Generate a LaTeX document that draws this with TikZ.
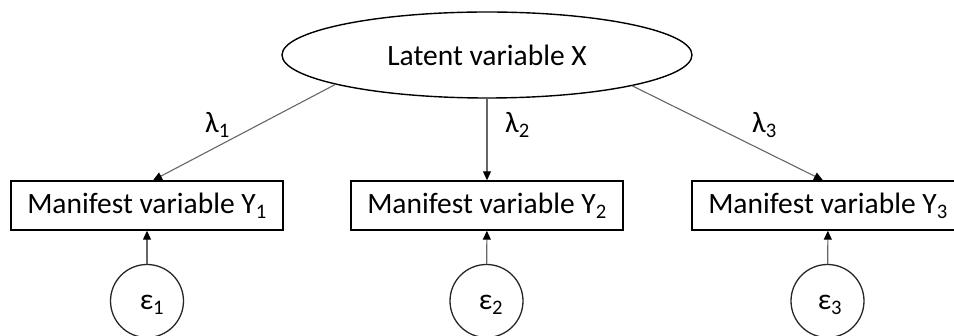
\documentclass[tikz,border=0pt]{standalone}
\usepackage{fontspec}
\setmainfont{Carlito}
\usetikzlibrary{shapes.geometric,arrows.meta}

\tikzset{
  every node/.style={font=\fontsize{29.5}{35}\selectfont},
  latent/.style={draw=black, line width=1.4pt, ellipse, minimum width=410pt,
    minimum height=86pt, inner sep=0pt},
  manifest/.style={draw=black, line width=1.4pt, rectangle, minimum width=272pt,
    minimum height=49pt, inner sep=0pt},
  errcirc/.style={draw=black!85, line width=1.3pt, circle, minimum size=73pt,
    inner sep=0pt},
  load/.style={draw=black!60, line width=1.1pt,
    -{Triangle[length=9pt,width=8pt,color=black]}},
  coef/.style={anchor=base west, inner sep=0pt},
  errlab/.style={anchor=base, inner sep=0pt},
}

\begin{document}
\begin{tikzpicture}[x=1pt, y=-1pt]
  \path[use as bounding box, clip] (0,0) rectangle (954,336);

  % latent factor
  \node[latent] (X) at (487,55) {Latent variable X};

  % indicators
  \node[manifest] (Y1) at (147,205.5) {Manifest variable Y\textsubscript{1}};
  \node[manifest] (Y2) at (487,205.5) {Manifest variable Y\textsubscript{2}};
  \node[manifest] (Y3) at (828,205.5) {Manifest variable Y\textsubscript{3}};

  % measurement errors
  \node[errcirc] (e1) at (147,301) {};
  \node[errcirc] (e2) at (486.5,301) {};
  \node[errcirc] (e3) at (827.5,301) {};
  \node[errlab] at (152,310) {ε\textsubscript{1}};
  \node[errlab] at (491,310) {ε\textsubscript{2}};
  \node[errlab] at (830,310) {ε\textsubscript{3}};

  % factor loadings
  \draw[load] (X.191.8) -- ([xshift=6pt]Y1.north);
  \draw[load] (X.south) -- (Y2.north);
  \draw[load] (X.348.1) -- ([xshift=-5pt]Y3.north);
  \node[coef] at (205,133) {λ\textsubscript{1}};
  \node[coef] at (505,133) {λ\textsubscript{2}};
  \node[coef] at (752,133) {λ\textsubscript{3}};

  % error paths
  \draw[load] (e1) -- (Y1);
  \draw[load] (e2) -- (Y2);
  \draw[load] (e3) -- (Y3);
\end{tikzpicture}
\end{document}
